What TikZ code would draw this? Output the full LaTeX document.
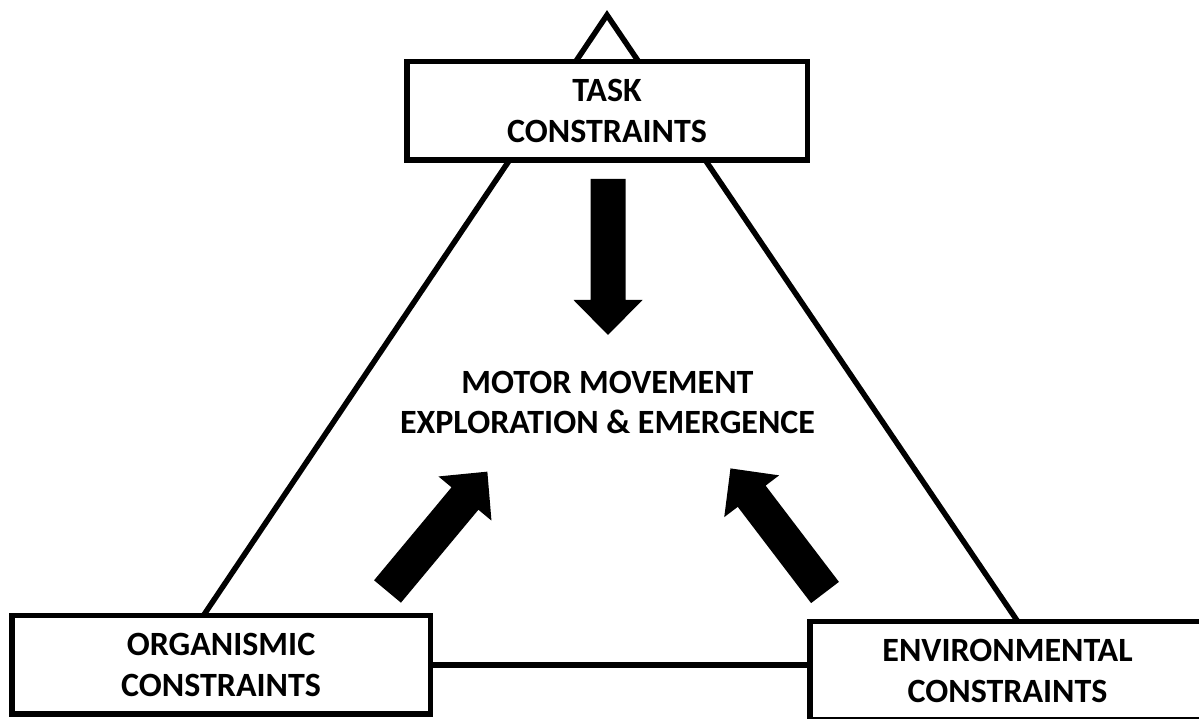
\documentclass[tikz,border=0pt]{standalone}
\usepackage{fontspec}
\setmainfont{Carlito}
\begin{document}
\begin{tikzpicture}[x=1pt,y=1pt,
  lbl/.style={font=\fontsize{34}{40.8}\selectfont\bfseries, align=center, inner sep=0pt},
  cbox/.style={lbl, draw=black, line width=5.5pt, fill=white, minimum height=98.5pt},
  edge/.style={draw=black, line width=5.5pt, line join=miter},
  blockarrow/.pic={\fill[black] (0,-17.5) -- (121,-17.5) -- (121,-34.5) -- (156,0) -- (121,34.5) -- (121,17.5) -- (0,17.5) -- cycle;}
]
\useasboundingbox (0,0) rectangle (1199,719);
\clip (0,0) rectangle (1199,719);
\fill[white] (0,0) rectangle (1199,719);
% triangle
\coordinate (apex) at (607,704);
\coordinate (lv) at (187,79);
\coordinate (rv) at (1037,69);
\draw[edge] (lv) -- (apex) -- (rv);
% boxes
\node[cbox, minimum width=400.5pt] (T) at (607,608) {TASK\\CONSTRAINTS};
\node[cbox, minimum width=418.5pt] (O) at (221,54) {ORGANISMIC\\CONSTRAINTS};
\node[cbox, minimum width=395.5pt] (E) at (1007.5,48) {ENVIRONMENTAL\\CONSTRAINTS};
\draw[edge] (O.east) -- (E.west |- O.east);
% center text
\node[lbl] (M) at (607.5,316.5) {MOTOR MOVEMENT\\EXPLORATION \& EMERGENCE};
% block arrows
\pic[rotate=-90] at (608,540) {blockarrow};
\pic[rotate=50.2] at (387.5,127.5) {blockarrow};
\pic[rotate=127.3] at (825,126.5) {blockarrow};
\end{tikzpicture}
\end{document}
